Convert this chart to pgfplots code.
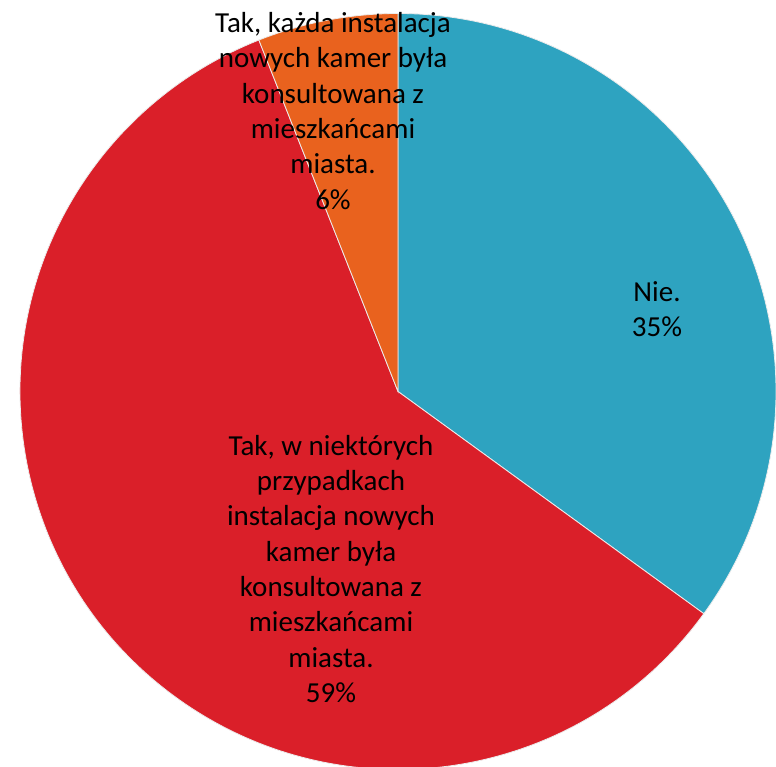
\documentclass[border=0pt]{standalone}
\usepackage{fontspec}
\setmainfont{Carlito}
\usepackage{pgfplots}
\usepackage{pgfplotstable}
\pgfplotsset{compat=1.18}

\definecolor{pieteal}{HTML}{2EA3C0}
\definecolor{piered}{HTML}{DA1F29}
\definecolor{pieorange}{HTML}{E9621E}

% share of answers, in per cent, clockwise from 12 o'clock
\pgfplotstableread{
slice value
nie   35
czesc 59
kazda 6
}\piedata

\pgfplotstablegetelem{0}{value}\of\piedata \let\vnie\pgfplotsretval
\pgfplotstablegetelem{1}{value}\of\piedata \let\vczesc\pgfplotsretval
\pgfplotstablegetelem{2}{value}\of\piedata \let\vkazda\pgfplotsretval

\pgfmathsetmacro\aA{90}
\pgfmathsetmacro\aB{\aA-3.6*\vnie}
\pgfmathsetmacro\aC{\aB-3.6*\vczesc}
\pgfmathsetmacro\aD{\aC-3.6*\vkazda}

% pie geometry in pixel units (1px = 0.75pt)
\def\cx{398}
\def\cy{375.5}
\def\rad{283.5pt}

\tikzset{pielabel/.style={font=\fontsize{21.75pt}{26.5pt}\selectfont, align=center, text=black, inner sep=0pt}}

\begin{document}
\begin{tikzpicture}
\begin{axis}[
  scale only axis, x=0.75pt, y=0.75pt,
  xmin=0, xmax=776, ymin=0, ymax=767,
  hide axis, clip mode=global]
\path (axis cs:0,0) rectangle (axis cs:776,767);
\filldraw[fill=pieteal, draw=white!85!gray, line width=0.6pt]
  (axis cs:\cx,\cy) -- ++(\aA:\rad) arc[start angle=\aA, end angle=\aB, radius=\rad] -- cycle;
\filldraw[fill=piered, draw=white!85!gray, line width=0.6pt]
  (axis cs:\cx,\cy) -- ++(\aB:\rad) arc[start angle=\aB, end angle=\aC, radius=\rad] -- cycle;
\filldraw[fill=pieorange, draw=white!85!gray, line width=0.6pt]
  (axis cs:\cx,\cy) -- ++(\aC:\rad) arc[start angle=\aC, end angle=\aD, radius=\rad] -- cycle;

\node[pielabel] at (axis cs:657,458) {Nie.\\\vnie\%};
\node[pielabel] at (axis cs:331,198) {Tak, w niektórych\\przypadkach\\instalacja nowych\\kamer była\\konsultowana z\\mieszkańcami\\miasta.\\\vczesc\%};
\node[pielabel] at (axis cs:333,656) {Tak, każda instalacja\\nowych kamer była\\konsultowana z\\mieszkańcami\\miasta.\\\vkazda\%};
\end{axis}
\end{tikzpicture}
\end{document}
